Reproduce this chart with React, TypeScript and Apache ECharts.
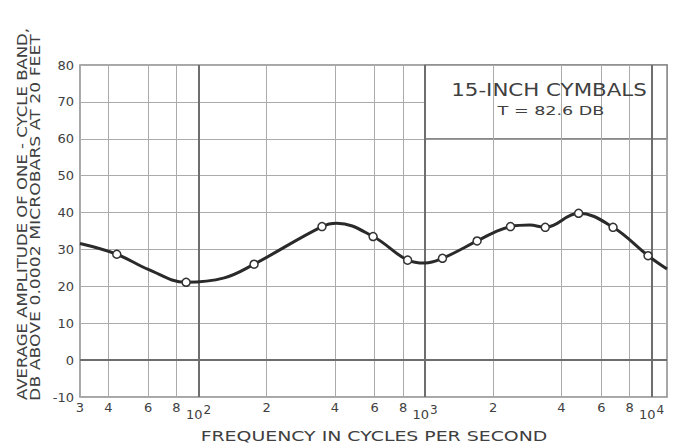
import React, { useEffect, useRef } from 'react';
import * as echarts from 'echarts';

// Smooth response curve (frequency in c/s, level in dB)
const curveFreq = [30, 43.6, 60, 88.2, 130, 176, 351, 408, 590, 838, 1000, 1194, 1698, 2000, 2384, 2900, 3394, 4764, 6761, 9652, 11700];
const curveDb = [31.6, 28.7, 24.6, 21.1, 22.3, 26.0, 36.2, 37.1, 33.5, 27.1, 26.3, 27.6, 32.3, 34.5, 36.2, 36.6, 36.0, 39.8, 36.0, 28.3, 24.7];

// Measured points (open circles)
const pointFreq = [43.6, 88.2, 176, 351, 590, 838, 1194, 1698, 2384, 3394, 4764, 6761, 9652];
const pointDb = [28.7, 21.1, 26.0, 36.2, 33.5, 27.1, 27.6, 32.3, 36.2, 36.0, 39.8, 36.0, 28.3];

// Frequency grid / tick labels
const xTickValues = [30, 40, 60, 80, 100, 200, 400, 600, 800, 1000, 2000, 4000, 6000, 8000, 10000];
const xTickLabels = ['3', '4', '6', '8', '10^2', '2', '4', '6', '8', '10^3', '2', '4', '6', '8', '10^4'];
const decadeValues = [100, 1000, 10000];

const X_MIN = 30;
const X_MAX = 11700;
const Y_MIN = -10;
const Y_MAX = 80;

const TITLE_1 = '15-INCH CYMBALS';
const TITLE_2 = 'T = 82.6 DB';
const Y_NAME_1 = 'AVERAGE AMPLITUDE OF ONE - CYCLE BAND,';
const Y_NAME_2 = 'DB ABOVE 0.0002 MICROBARS AT 20 FEET';
const X_NAME = 'FREQUENCY IN CYCLES PER SECOND';

const FONT = 'DejaVu Sans';
const TEXT = '#404040';
const GRID = '#ababab';
const GRID_DARK = '#6e6e6e';

export default function App() {
  const ref = useRef<HTMLDivElement>(null);
  useEffect(() => {
    if (!ref.current) return;
    const chart = echarts.init(ref.current, undefined, { renderer: 'svg' });

    const gridLines = xTickValues.map((v, i) => {
      const lab = xTickLabels[i];
      const isDec = decadeValues.includes(v);
      const parts = lab.split('^');
      const text = parts.length > 1 ? `{b|${parts[0]}}{s|${parts[1]}}` : `{n|${lab}}`;
      return {
        xAxis: v,
        lineStyle: {
          color: isDec ? GRID_DARK : GRID,
          width: isDec ? 2 : 1,
          type: 'solid',
        },
        label: { formatter: text },
      };
    });

    const textStyle = (text: string, fontSize: number, align = 'center') => ({
      text,
      fontFamily: FONT,
      fontSize,
      fill: TEXT,
      align,
      verticalAlign: 'middle',
    });

    chart.setOption({
      animation: false,
      backgroundColor: '#ffffff',
      grid: {
        left: 80,
        right: 12,
        top: 65,
        bottom: 49,
        show: true,
        borderColor: '#8a8a8a',
        borderWidth: 1.5,
        containLabel: false,
      },
      xAxis: {
        type: 'log',
        logBase: 10,
        min: X_MIN,
        max: X_MAX,
        axisLine: { show: false },
        axisTick: { show: false },
        axisLabel: { show: false },
        splitLine: { show: false },
        minorSplitLine: { show: false },
      },
      yAxis: {
        type: 'value',
        min: Y_MIN,
        max: Y_MAX,
        interval: 10,
        axisLine: { show: false },
        axisTick: { show: false },
        axisLabel: { fontFamily: FONT, fontSize: 13, color: TEXT, margin: 6 },
        splitLine: { show: true, lineStyle: { color: GRID, width: 1 } },
      },
      graphic: [
        { type: 'text', x: 22, y: 214, rotation: Math.PI / 2, scaleX: 1.14, style: textStyle(Y_NAME_1, 14.5) },
        { type: 'text', x: 34.5, y: 217.5, rotation: Math.PI / 2, scaleX: 1.19, style: textStyle(Y_NAME_2, 14.5) },
        { type: 'text', x: 374, y: 436, scaleX: 1.4, style: textStyle(X_NAME, 13.5) },
        { type: 'text', x: 549, y: 90, z: 100, scaleX: 1.22, style: textStyle(TITLE_1, 17.5) },
        { type: 'text', x: 551, y: 111, z: 100, scaleX: 1.35, style: textStyle(TITLE_2, 13) },
      ],
      series: [
        {
          name: 'grid',
          type: 'line',
          z: 1,
          data: [],
          silent: true,
          markLine: {
            silent: true,
            symbol: 'none',
            animation: false,
            label: {
              show: true,
              position: 'start',
              distance: 4,
              color: TEXT,
              fontFamily: FONT,
              rich: {
                n: { fontFamily: FONT, fontSize: 13, color: TEXT, lineHeight: 12, verticalAlign: 'top' },
                b: { fontFamily: FONT, fontSize: 13, color: TEXT, lineHeight: 20, verticalAlign: 'bottom' },
                s: { fontFamily: FONT, fontSize: 12, color: TEXT, lineHeight: 12, verticalAlign: 'bottom', padding: [0, 0, 5, 1] },
              },
            },
            emphasis: { disabled: true },
            data: [
              ...gridLines,
              { yAxis: 0, lineStyle: { color: GRID_DARK, width: 2, type: 'solid' }, label: { show: false } },
            ],
          },
        },
        {
          name: 'box',
          type: 'line',
          z: 2,
          data: [],
          silent: true,
          markArea: {
            silent: true,
            itemStyle: { color: '#ffffff', borderColor: '#8a8a8a', borderWidth: 1.5 },
            emphasis: { disabled: true },
            data: [[{ xAxis: 1000, yAxis: 60 }, { xAxis: X_MAX, yAxis: Y_MAX }]],
          },
        },
        {
          name: 'curve',
          type: 'line',
          z: 5,
          smooth: 0.4,
          showSymbol: false,
          symbol: 'none',
          lineStyle: { color: '#2a2a2a', width: 3 },
          data: curveFreq.map((f, i) => [f, curveDb[i]]),
        },
        {
          name: 'points',
          type: 'scatter',
          z: 6,
          symbol: 'circle',
          symbolSize: 8,
          itemStyle: { color: '#ffffff', borderColor: '#333333', borderWidth: 1.5, opacity: 1 },
          data: pointFreq.map((f, i) => [f, pointDb[i]]),
        },
      ],
    });
    return () => chart.dispose();
  }, []);
  return <div ref={ref} style={{ width: 679, height: 446, position: 'absolute', left: 0, top: 0 }} />;
}
